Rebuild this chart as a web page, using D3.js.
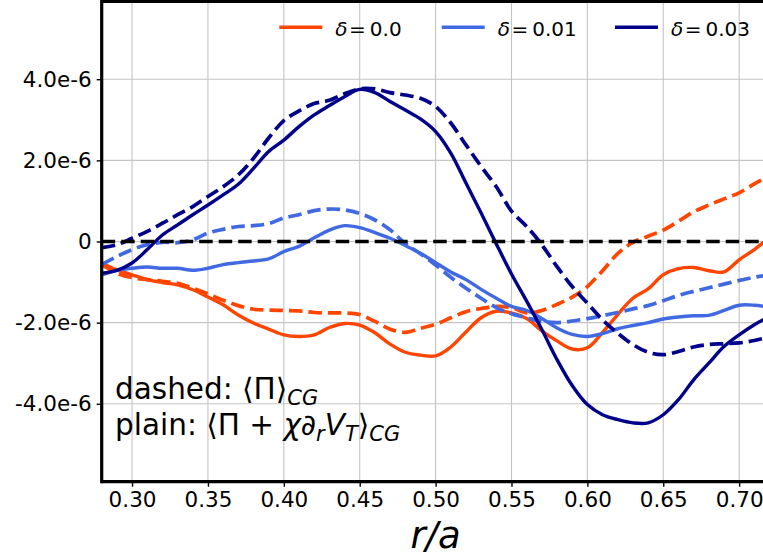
<!DOCTYPE html>
<html><head><meta charset="utf-8">
<script src="https://cdn.jsdelivr.net/npm/d3@7"></script>
<style>body{margin:0;background:#fff} text{font-family:"DejaVu Sans",sans-serif}</style>
</head><body><svg id="c" width="763" height="556"></svg>
<script>
// radial coordinate r/a
const rA = [0.28,0.29,0.30,0.31,0.32,0.33,0.34,0.35,0.36,0.37,0.38,0.39,0.40,0.41,0.42,0.43,0.44,0.45,0.46,0.47,0.48,0.49,0.50,0.51,0.52,0.53,0.54,0.55,0.56,0.57,0.58,0.59,0.60,0.61,0.62,0.63,0.64,0.65,0.66,0.67,0.68,0.69,0.70,0.71,0.72];
const yUnit = 1e-6;
// delta = 0.0
const d00Dashed = [-0.57,-0.78,-0.89,-0.94,-0.98,-1.03,-1.15,-1.29,-1.45,-1.58,-1.67,-1.69,-1.70,-1.71,-1.75,-1.76,-1.76,-1.80,-1.97,-2.16,-2.24,-2.14,-2.04,-1.88,-1.73,-1.65,-1.60,-1.63,-1.76,-1.70,-1.55,-1.37,-1.11,-0.72,-0.30,-0.02,0.13,0.28,0.50,0.73,0.90,1.05,1.20,1.42,1.62];
const d00Plain  = [-0.53,-0.70,-0.82,-0.94,-1.01,-1.07,-1.19,-1.37,-1.56,-1.81,-2.01,-2.16,-2.30,-2.34,-2.30,-2.12,-2.02,-2.06,-2.25,-2.53,-2.73,-2.80,-2.82,-2.60,-2.23,-1.88,-1.72,-1.76,-1.90,-2.20,-2.45,-2.65,-2.62,-2.24,-1.80,-1.40,-1.17,-0.82,-0.67,-0.64,-0.72,-0.75,-0.45,-0.20,0.10];
// delta = 0.01
const d01Dashed = [-0.57,-0.37,-0.20,-0.08,-0.02,-0.03,0.04,0.21,0.30,0.37,0.39,0.44,0.58,0.66,0.76,0.80,0.78,0.69,0.53,0.29,-0.05,-0.30,-0.58,-0.88,-1.15,-1.40,-1.63,-1.78,-1.88,-1.97,-2.00,-1.96,-1.90,-1.83,-1.75,-1.66,-1.58,-1.46,-1.33,-1.23,-1.14,-1.05,-0.96,-0.88,-0.82];
const d01Plain  = [-0.82,-0.71,-0.66,-0.63,-0.66,-0.66,-0.71,-0.66,-0.57,-0.52,-0.48,-0.43,-0.25,-0.12,0.09,0.28,0.39,0.34,0.22,0.08,-0.10,-0.29,-0.52,-0.75,-0.94,-1.18,-1.40,-1.60,-1.70,-1.90,-2.13,-2.29,-2.34,-2.27,-2.15,-2.07,-2.00,-1.91,-1.86,-1.83,-1.82,-1.70,-1.57,-1.57,-1.62];
// delta = 0.03
const d03Dashed = [-0.15,-0.08,0.08,0.25,0.45,0.66,0.86,1.11,1.35,1.64,2.05,2.55,2.98,3.22,3.40,3.48,3.64,3.76,3.76,3.67,3.61,3.53,3.33,2.92,2.38,1.85,1.35,0.75,0.37,-0.08,-0.62,-1.11,-1.52,-1.93,-2.26,-2.54,-2.73,-2.79,-2.71,-2.60,-2.54,-2.52,-2.50,-2.44,-2.35];
const d03Plain  = [-0.78,-0.71,-0.53,-0.20,0.16,0.41,0.66,0.90,1.15,1.41,1.80,2.22,2.50,2.83,3.12,3.35,3.57,3.75,3.67,3.45,3.24,3.02,2.71,2.18,1.44,0.70,-0.06,-0.80,-1.47,-2.17,-2.91,-3.55,-4.02,-4.27,-4.39,-4.47,-4.47,-4.27,-3.90,-3.41,-3.00,-2.59,-2.30,-2.05,-1.85];

const legendLabels = ["0.0","0.01","0.03"];
const seriesColors = ["#ff4500","#4169e1","#00008b"];
const xTickVals = [0.30,0.35,0.40,0.45,0.50,0.55,0.60,0.65,0.70];
const xTickLabels = ["0.30","0.35","0.40","0.45","0.50","0.55","0.60","0.65","0.70"];
const yTickVals = [-4e-6,-2e-6,0,2e-6,4e-6];
const yTickLabels = ["-4.0e-6","-2.0e-6","0","2.0e-6","4.0e-6"];

const svg = d3.select("#c");
const L = 101.7, R = 769.5, T = 1.3, B = 481.7;
const x = d3.scaleLinear().domain([0.28, 0.72]).range([L, R]);
const y = d3.scaleLinear().domain([-5.92e-6, 5.92e-6]).range([B, T]);

svg.append("defs").append("clipPath").attr("id","clip")
  .append("rect").attr("x",L).attr("y",T).attr("width",R-L).attr("height",B-T);

// grid
const grid = svg.append("g");
grid.selectAll(".gx").data(xTickVals).join("line")
  .attr("x1",d=>x(d)).attr("x2",d=>x(d)).attr("y1",T).attr("y2",B)
  .attr("stroke","#c4c4c4").attr("stroke-width",1.1);
grid.selectAll(".gy").data(yTickVals).join("line")
  .attr("x1",L).attr("x2",R).attr("y1",d=>y(d)).attr("y2",d=>y(d))
  .attr("stroke","#c4c4c4").attr("stroke-width",1.1);

const series = [
  {vals:d00Dashed, c:0, dash:true},{vals:d00Plain, c:0, dash:false},
  {vals:d01Dashed, c:1, dash:true},{vals:d01Plain, c:1, dash:false},
  {vals:d03Dashed, c:2, dash:true},{vals:d03Plain, c:2, dash:false}
];
const line = d3.line().x((d,i)=>x(rA[i])).y(d=>y(d*yUnit)).curve(d3.curveCatmullRom.alpha(0.5));
const plot = svg.append("g").attr("clip-path","url(#clip)");
series.forEach(s=>{
  plot.append("path").datum(s.vals).attr("d",line)
    .attr("fill","none").attr("stroke",seriesColors[s.c]).attr("stroke-width",s.dash?3.7:3.4)
    .attr("stroke-dasharray", s.dash ? "13.5,6" : null)
    .attr("stroke-linejoin","round");
});
// zero line
plot.append("line").attr("x1",L).attr("x2",R).attr("y1",y(0)).attr("y2",y(0))
  .attr("stroke","#000").attr("stroke-width",3.6).attr("stroke-dasharray","13.5,6");

// axes
const xAxis = d3.axisBottom(x).tickValues(xTickVals).tickFormat((d,i)=>xTickLabels[i]).tickSize(5).tickPadding(5);
const gx = svg.append("g").attr("transform",`translate(0,${B})`).call(xAxis);
gx.select(".domain").remove();
gx.selectAll("line").attr("stroke","#000").attr("stroke-width",1.4);
gx.selectAll("text").attr("font-size","21.5px").attr("font-family","DejaVu Sans").attr("fill","#000");

const yAxis = d3.axisLeft(y).tickValues(yTickVals).tickFormat(d=>yTickLabels[yTickVals.indexOf(d)]).tickSize(5).tickPadding(5);
const gy = svg.append("g").attr("transform",`translate(${L},0)`).call(yAxis);
gy.select(".domain").remove();
gy.selectAll("line").attr("stroke","#000").attr("stroke-width",1.4);
gy.selectAll("text").attr("font-size","21.5px").attr("font-family","DejaVu Sans").attr("fill","#000");

// spines
svg.append("line").attr("x1",L).attr("x2",L).attr("y1",T-1.5).attr("y2",B+1.5).attr("stroke","#000").attr("stroke-width",3.2);
svg.append("line").attr("x1",L).attr("x2",R).attr("y1",T).attr("y2",T).attr("stroke","#000").attr("stroke-width",3.2);
svg.append("line").attr("x1",L).attr("x2",R).attr("y1",B).attr("y2",B).attr("stroke","#000").attr("stroke-width",3.2);

// x label
svg.append("text").attr("x",(L+R)/2).attr("y",547.5).attr("text-anchor","middle")
  .attr("font-size","37px").attr("font-style","italic").text("r/a");

// legend
const legX = [279.3, 441.7, 615];
const lg = svg.append("g");
legendLabels.forEach((lab,i)=>{
  lg.append("line").attr("x1",legX[i]).attr("x2",legX[i]+43).attr("y1",27.3).attr("y2",27.3)
    .attr("stroke",seriesColors[i]).attr("stroke-width",3.4);
  const t = lg.append("text").attr("x",legX[i]+56).attr("y",36).attr("font-size","20px");
  t.append("tspan").attr("font-style","italic").text("δ");
  t.append("tspan").attr("dx",1.5).text("=");
  t.append("tspan").attr("dx",4).text(lab);
});

// annotation
const a1 = svg.append("text").attr("x",115).attr("y",399).attr("font-size","29.5px");
a1.append("tspan").text("dashed: ⟨Π⟩");
a1.append("tspan").attr("font-style","italic").attr("font-size","21px").attr("dy",6).text("CG");
const a2 = svg.append("text").attr("x",115).attr("y",435).attr("font-size","29.5px");
a2.append("tspan").text("plain: ⟨Π + ");
a2.append("tspan").attr("font-style","italic").text("χ∂");
a2.append("tspan").attr("font-style","italic").attr("font-size","21px").attr("dy",6).text("r");
a2.append("tspan").attr("font-style","italic").attr("dy",-6).text("V");
a2.append("tspan").attr("font-style","italic").attr("font-size","21px").attr("dy",6).text("T");
a2.append("tspan").attr("dy",-6).text("⟩");
a2.append("tspan").attr("font-style","italic").attr("font-size","21px").attr("dy",6).text("CG");
</script></body></html>
